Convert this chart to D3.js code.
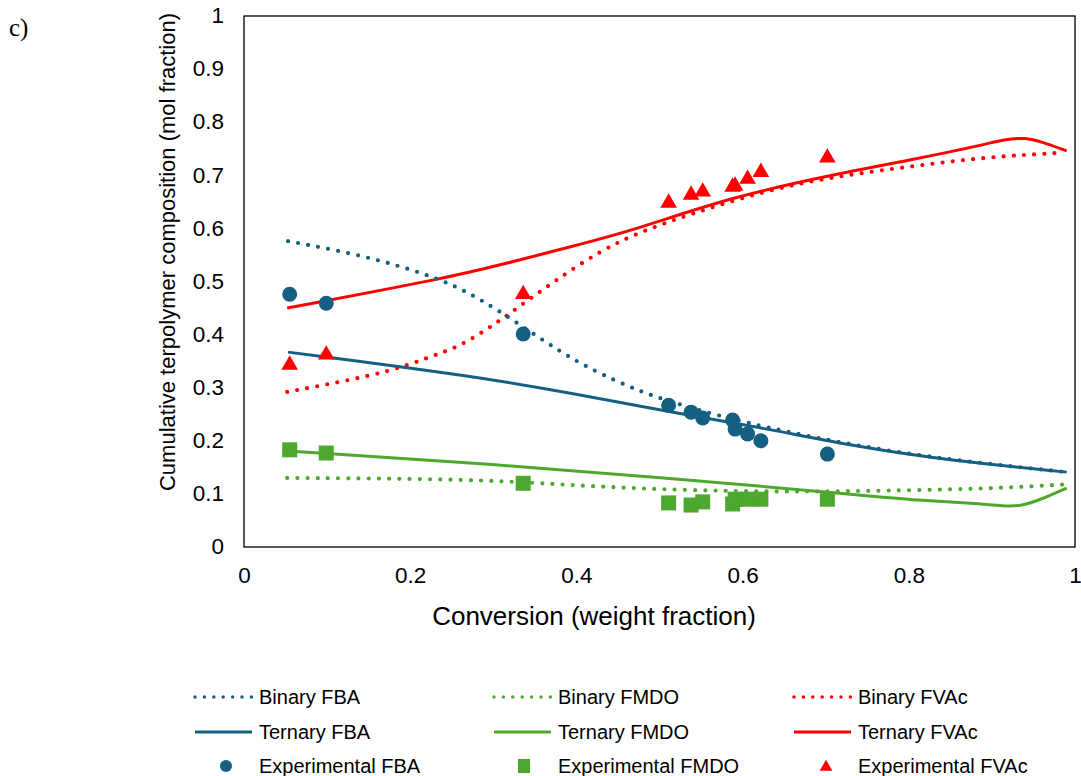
<!DOCTYPE html>
<html>
<head>
<meta charset="utf-8">
<script src="https://cdn.jsdelivr.net/npm/d3@7"></script>
<style>
  body { margin: 0; background: #fff; }
  svg { display: block; font-family: "Liberation Sans", Arial, sans-serif; }
</style>
</head>
<body>
<svg id="chart" width="1081" height="776"></svg>
<script>
// values (conversion, mol fraction)
const xTicks = [0, 0.2, 0.4, 0.6, 0.8, 1];
const yTicks = [0, 0.1, 0.2, 0.3, 0.4, 0.5, 0.6, 0.7, 0.8, 0.9, 1];

const binaryFBAx = [0.053, 0.128, 0.188, 0.224, 0.26, 0.304, 0.356, 0.4, 0.444, 0.479, 0.503, 0.55, 0.625, 0.738, 0.85, 0.99];
const binaryFBAy = [0.576, 0.554, 0.529, 0.51, 0.488, 0.448, 0.393, 0.349, 0.315, 0.292, 0.279, 0.256, 0.226, 0.19, 0.164, 0.141];

const ternaryFBAx = [0.053, 0.284, 0.392, 0.525, 0.625, 0.741, 0.85, 0.99];
const ternaryFBAy = [0.367, 0.32, 0.29, 0.251, 0.224, 0.188, 0.163, 0.141];

const binaryFMDOx = [0.052, 0.284, 0.404, 0.525, 0.645, 0.729, 0.889, 0.99];
const binaryFMDOy = [0.13, 0.128, 0.115, 0.107, 0.104, 0.105, 0.109, 0.118];

const ternaryFMDOx = [0.052, 0.284, 0.525, 0.645, 0.741, 0.81, 0.88, 0.915, 0.935, 0.96, 0.99];
const ternaryFMDOy = [0.181, 0.158, 0.128, 0.111, 0.098, 0.088, 0.082, 0.077, 0.077, 0.09, 0.111];

const binaryFVAcx = [0.052, 0.116, 0.176, 0.224, 0.26, 0.292, 0.314, 0.334, 0.374, 0.428, 0.473, 0.533, 0.629, 0.709, 0.789, 0.889, 0.98];
const binaryFVAcy = [0.292, 0.311, 0.331, 0.358, 0.378, 0.41, 0.433, 0.456, 0.501, 0.557, 0.591, 0.625, 0.672, 0.697, 0.714, 0.734, 0.742];

const ternaryFVAcx = [0.052, 0.248, 0.308, 0.392, 0.468, 0.588, 0.717, 0.8, 0.889, 0.915, 0.94, 0.96, 0.99];
const ternaryFVAcy = [0.45, 0.508, 0.531, 0.565, 0.596, 0.66, 0.704, 0.728, 0.757, 0.768, 0.771, 0.763, 0.746];

const expX = [0.055, 0.099, 0.336, 0.511, 0.538, 0.552, 0.588, 0.591, 0.606, 0.622, 0.702];
const expFBA = [0.476, 0.459, 0.401, 0.267, 0.254, 0.243, 0.239, 0.222, 0.213, 0.2, 0.175];
const expFMDO = [0.183, 0.177, 0.12, 0.083, 0.079, 0.085, 0.081, 0.09, 0.09, 0.09, 0.09];
const expFVAc = [0.343, 0.362, 0.476, 0.648, 0.663, 0.669, 0.678, 0.68, 0.693, 0.706, 0.733];

const BLUE = '#156082', GREEN = '#4ea72e', RED = '#ff0000';

const svg = d3.select('#chart');
const plotL = 244, plotR = 1075, plotT = 16, plotB = 547;

const x = d3.scaleLinear().domain([0, 1]).range([plotL, plotR]);
const y = d3.scaleLinear().domain([0, 1]).range([plotB, plotT]);

// frame
svg.append('rect')
  .attr('x', plotL).attr('y', plotT)
  .attr('width', plotR - plotL).attr('height', plotB - plotT)
  .attr('fill', 'none').attr('stroke', '#000').attr('stroke-width', 1.3);

// axes (labels only, no tick marks)
const yAxis = svg.append('g').attr('transform', `translate(${plotL},0)`)
  .call(d3.axisLeft(y).tickValues(yTicks).tickSize(0).tickPadding(20).tickFormat(d3.format('')));
const xAxis = svg.append('g').attr('transform', `translate(0,${plotB})`)
  .call(d3.axisBottom(x).tickValues(xTicks).tickSize(0).tickPadding(20).tickFormat(d3.format('')));
[yAxis, xAxis].forEach(g => {
  g.select('.domain').remove();
  g.selectAll('text').attr('font-size', 22.5).attr('fill', '#000')
    .attr('font-family', '"Liberation Sans", Arial, sans-serif');
});
yAxis.selectAll('text').attr('dy', '0.3em');

svg.append('text')
  .attr('transform', 'translate(175,252) rotate(-90)')
  .attr('text-anchor', 'middle')
  .attr('font-size', 22)
  .text('Cumulative terpolymer composition (mol fraction)');

svg.append('text')
  .attr('x', 594).attr('y', 625)
  .attr('text-anchor', 'middle')
  .attr('font-size', 26)
  .text('Conversion (weight fraction)');

svg.append('text')
  .attr('x', 9).attr('y', 36)
  .attr('font-family', '"Liberation Serif", "Times New Roman", serif')
  .attr('font-size', 25)
  .text('c)');

const line = d3.line().x(d => x(d[0])).y(d => y(d[1])).curve(d3.curveBasis);
const zip = (xs, ys) => xs.map((v, i) => [v, ys[i]]);

const curves = [
  { xs: binaryFVAcx, ys: binaryFVAcy, color: RED, dotted: true },
  { xs: ternaryFVAcx, ys: ternaryFVAcy, color: RED, dotted: false },
  { xs: binaryFBAx, ys: binaryFBAy, color: BLUE, dotted: true },
  { xs: ternaryFBAx, ys: ternaryFBAy, color: BLUE, dotted: false },
  { xs: binaryFMDOx, ys: binaryFMDOy, color: GREEN, dotted: true },
  { xs: ternaryFMDOx, ys: ternaryFMDOy, color: GREEN, dotted: false }
];

function styleLine(sel, c) {
  sel.attr('fill', 'none').attr('stroke', c.color);
  if (c.dotted) {
    sel.attr('stroke-width', 4.2).attr('stroke-linecap', 'round').attr('stroke-dasharray', '0 10.2');
  } else {
    sel.attr('stroke-width', 3);
  }
}

curves.forEach(c => {
  svg.append('path').datum(zip(c.xs, c.ys)).attr('d', line).call(styleLine, c);
});

// experimental points
const tri = d3.symbol().type(d3.symbolTriangle).size(120);
svg.append('g').selectAll('circle').data(zip(expX, expFBA)).enter().append('circle')
  .attr('cx', d => x(d[0])).attr('cy', d => y(d[1])).attr('r', 7.5).attr('fill', BLUE);
svg.append('g').selectAll('rect').data(zip(expX, expFMDO)).enter().append('rect')
  .attr('x', d => x(d[0]) - 7.5).attr('y', d => y(d[1]) - 7.5)
  .attr('width', 15).attr('height', 15).attr('fill', GREEN);
svg.append('g').selectAll('path').data(zip(expX, expFVAc)).enter().append('path')
  .attr('d', tri).attr('transform', d => `translate(${x(d[0])},${y(d[1])})`).attr('fill', RED);

// legend
const legendCols = [195, 494, 794];
const legendRows = [697, 732, 766];
const legendItems = [
  { col: 0, row: 0, label: 'Binary FBA', color: BLUE, kind: 'dot' },
  { col: 1, row: 0, label: 'Binary FMDO', color: GREEN, kind: 'dot' },
  { col: 2, row: 0, label: 'Binary FVAc', color: RED, kind: 'dot' },
  { col: 0, row: 1, label: 'Ternary FBA', color: BLUE, kind: 'line' },
  { col: 1, row: 1, label: 'Ternary FMDO', color: GREEN, kind: 'line' },
  { col: 2, row: 1, label: 'Ternary FVAc', color: RED, kind: 'line' },
  { col: 0, row: 2, label: 'Experimental FBA', color: BLUE, kind: 'circle' },
  { col: 1, row: 2, label: 'Experimental FMDO', color: GREEN, kind: 'square' },
  { col: 2, row: 2, label: 'Experimental FVAc', color: RED, kind: 'triangle' }
];

const lg = svg.append('g');
legendItems.forEach(it => {
  const lx = legendCols[it.col], ly = legendRows[it.row];
  if (it.kind === 'dot' || it.kind === 'line') {
    lg.append('line').attr('x1', lx).attr('x2', lx + 57).attr('y1', ly).attr('y2', ly)
      .call(styleLine, { color: it.color, dotted: it.kind === 'dot' })
      .attr('stroke-width', it.kind === 'dot' ? 3.5 : 3)
      .attr('stroke-dasharray', it.kind === 'dot' ? '0 9.4' : null);
  } else if (it.kind === 'circle') {
    lg.append('circle').attr('cx', lx + 31).attr('cy', ly).attr('r', 6).attr('fill', it.color);
  } else if (it.kind === 'square') {
    lg.append('rect').attr('x', lx + 24).attr('y', ly - 7).attr('width', 12).attr('height', 14).attr('fill', it.color);
  } else {
    lg.append('path').attr('d', d3.symbol().type(d3.symbolTriangle).size(70))
      .attr('transform', `translate(${lx + 32},${ly + 1})`).attr('fill', it.color);
  }
  lg.append('text').attr('x', lx + 64).attr('y', ly).attr('dy', '0.35em')
    .attr('font-size', 20).text(it.label);
});
</script>
</body>
</html>
